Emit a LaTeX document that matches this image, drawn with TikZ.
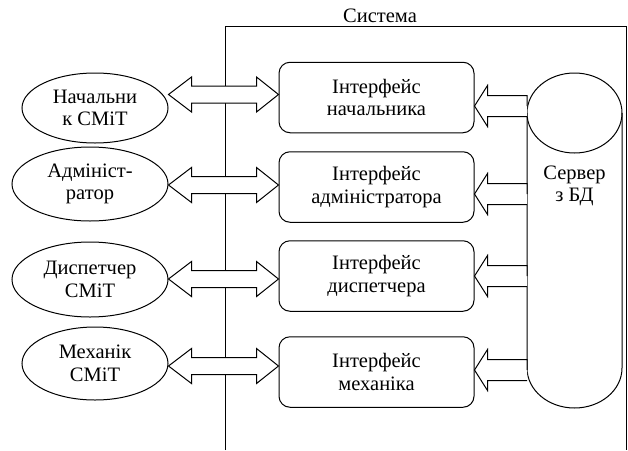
\documentclass[tikz,border=0pt]{standalone}
\usepackage{fontspec}
\setmainfont{Liberation Serif}
\usetikzlibrary{shapes.geometric,calc}
\newcommand\dblarr[3]{%
  \coordinate (L) at (#1.east |- 0,#3);
  \coordinate (R) at (#2.west |- 0,#3);
  \draw[blk] (L) -- ($(L)+(23,-17.5)$) -- ($(L)+(23,-8.5)$) -- ($(R)+(-22,-8.5)$)
    -- ($(R)+(-22,-17.5)$) -- (R) -- ($(R)+(-22,17.5)$) -- ($(R)+(-22,8.5)$)
    -- ($(L)+(23,8.5)$) -- ($(L)+(23,17.5)$) -- cycle;}
\newcommand\srvarr[2]{%
  \coordinate (T) at (#1.east |- 0,#2);
  \coordinate (S) at (srvL |- 0,#2);
  \draw[blk] (S) -- ($(S)+(0,-10.5)$) -- ($(T)+(13,-10.5)$) -- ($(T)+(13,-20.5)$)
    -- (T) -- ($(T)+(13,20.5)$) -- ($(T)+(13,10.5)$) -- ($(S)+(0,10.5)$);}
\begin{document}
\begin{tikzpicture}[x=1pt,y=-1pt, line width=1pt,
  txt/.style={font=\fontsize{20.5}{22.5}\selectfont, align=center},
  actor/.style={draw, ellipse, txt, inner sep=0pt},
  ibox/.style={draw, rounded corners=11pt, txt, minimum width=195pt, minimum height=70.5pt, inner sep=0pt},
  blk/.style={draw, fill=white, line join=miter}]
\useasboundingbox (0,0) rectangle (628,450);
% system frame
\draw (225,450) -- (225,26) -- (626,26) -- (626,450);
\node[txt, anchor=base] (sys) at (380,22) {Система};
% actors
\node[actor, minimum width=146pt, minimum height=70pt] (e1) at (95,108) {Начальни\\к СМіТ};
\node[actor, minimum width=156pt, minimum height=74pt] (e2) at (90,184) {Адмініст-\\ратор};
\node[actor, minimum width=156pt, minimum height=75pt] (e3) at (90,279.5) {Диспетчер\\СМіТ};
\node[actor, minimum width=146pt, minimum height=73pt] (e4) at (95,363.5) {Механік\\СМіТ};
% interfaces
\node[ibox] (b1) at (376.5,97.5) {Інтерфейс\\начальника};
\node[ibox] (b2) at (376.5,187) {Інтерфейс\\адміністратора};
\node[ibox] (b3) at (376.5,276) {Інтерфейс\\диспетчера};
\node[ibox] (b4) at (376.5,372) {Інтерфейс\\механіка};
% server
\coordinate (srvL) at (527,113);
\draw (527,113) -- (527,368) arc[start angle=180, end angle=360, x radius=47.5pt, y radius=40pt] -- (622,113);
\draw (574.5,113) ellipse [x radius=47.5pt, y radius=40pt];
\node[txt] (srv) at (574.5,186) {Сервер\\з БД};
% arrows
\dblarr{e1}{b1}{94.5}
\dblarr{e2}{b2}{185}
\dblarr{e3}{b3}{279}
\dblarr{e4}{b4}{366}
\srvarr{b1}{106}
\srvarr{b2}{194}
\srvarr{b3}{276}
\srvarr{b4}{370}
\end{tikzpicture}
\end{document}
